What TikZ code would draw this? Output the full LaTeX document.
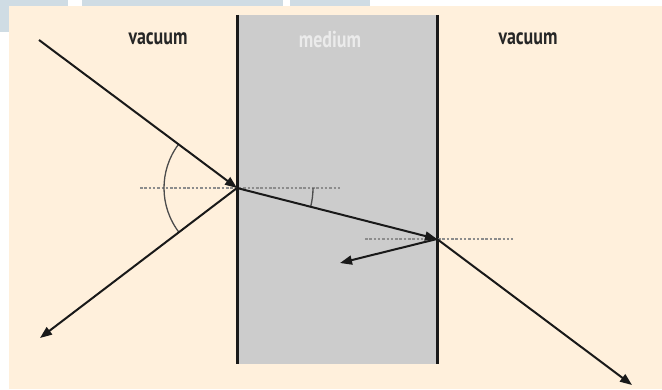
\documentclass[tikz,border=0pt]{standalone}
\usepackage{fontspec}
\setmainfont{PT Sans}
\usetikzlibrary{arrows.meta}
\definecolor{beige}{RGB}{255,240,220}
\definecolor{med}{RGB}{204,204,204}
\definecolor{wm}{RGB}{207,220,228}
\definecolor{dotc}{RGB}{140,140,140}
\tikzset{
  ray/.style={line width=2pt,black!90,-{Triangle[length=12pt,width=9pt]}},
  wall/.style={line width=3pt,black!90},
  normalline/.style={dotc,line width=1.5pt,dash pattern=on 2.5pt off 1.8pt},
  anglearc/.style={line width=1.3pt,black!70},
  lbl/.style={font=\fontsize{23}{26}\selectfont\bfseries,inner sep=0pt}
}
\begin{document}
\begin{tikzpicture}[x=1pt,y=1pt]
\useasboundingbox (0,0) rectangle (662,389);
\fill[white] (0,0) rectangle (662,389);
% watermark remnants
\fill[wm] (0,383) rectangle (68,389);
\fill[wm] (82,383) rectangle (283,389);
\fill[wm] (290,383) rectangle (370,389);
\fill[wm] (0,357) rectangle (9,389);
% background
\fill[beige] (9,0) rectangle (662,383);
% medium
\fill[med] (237,25) rectangle (437,374);
\coordinate (W1t) at (237,374); \coordinate (W1b) at (237,25);
\coordinate (W2t) at (437,374); \coordinate (W2b) at (437,25);
\draw[wall] (W1t) -- (W1b);
\draw[wall] (W2t) -- (W2b);
% labels
\node[lbl,text=black!85] (v1) at (158,350) {\scalebox{0.78}[1]{vacuum}};
\node[lbl,text=white!92!black] (m) at (330,350) {\scalebox{0.78}[1]{medium}};
\node[lbl,text=black!85] (v2) at (528,350) {\scalebox{0.78}[1]{vacuum}};
% points
\coordinate (S) at (39,349);
\coordinate (A) at (237,201);
\coordinate (R) at (40,51);
\coordinate (B) at (437,150);
\coordinate (C) at (340,126);
\coordinate (T) at (632,4);
\coordinate (N1a) at (140,201); \coordinate (N1b) at (340,201);
\coordinate (N2a) at (365,150); \coordinate (N2b) at (513,150);
% normals
\draw[normalline] (N1a) -- (N1b);
\draw[normalline] (N2a) -- (N2b);
% angle arcs
\draw[anglearc] (A) ++(143.4:73) arc[start angle=143.4,end angle=217.4,radius=73];
\draw[anglearc] (A) ++(0:76) arc[start angle=0,end angle=-14.2,radius=76];
% rays
\draw[ray] (S) -- (A);
\draw[ray] (A) -- (R);
\draw[ray] (A) -- (B);
\draw[ray] (B) -- (C);
\draw[ray] (B) -- (T);
\end{tikzpicture}
\end{document}
